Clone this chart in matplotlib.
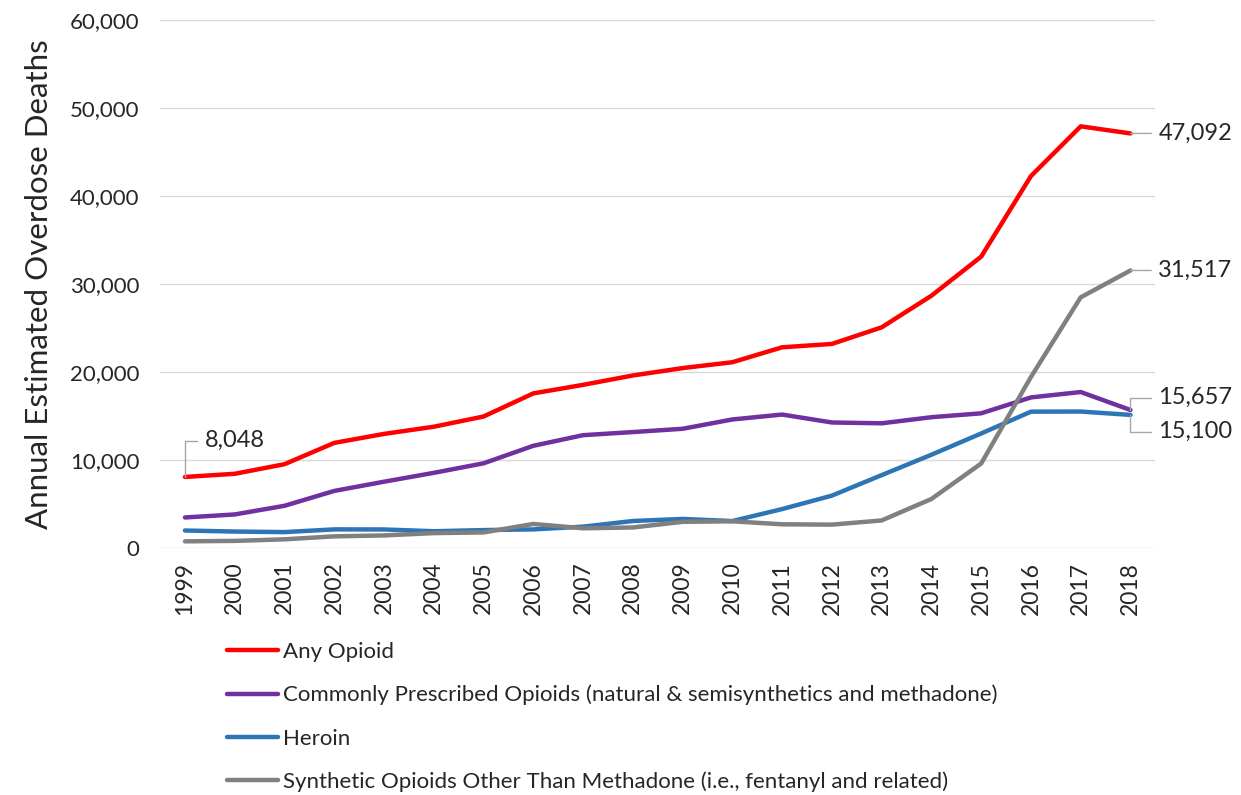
import matplotlib

matplotlib.use("Agg")
import matplotlib.pyplot as plt
from matplotlib.ticker import FuncFormatter

plt.rcParams["font.family"] = ["Lato", "DejaVu Sans"]

YEARS = [str(y) for y in range(1999, 2019)]
ANY_OPIOID = [8048, 8407, 9496, 11920, 12940, 13756, 14918, 17545, 18516, 19582,
              20422, 21089, 22784, 23166, 25052, 28647, 33091, 42249, 47900, 47092]
PRESCRIBED = [3442, 3785, 4770, 6459, 7507, 8515, 9598, 11589, 12796, 13149,
              13523, 14583, 15140, 14240, 14145, 14838, 15281, 17087, 17700, 15657]
HEROIN = [1960, 1842, 1779, 2089, 2080, 1878, 2009, 2088, 2399, 3041,
          3278, 3036, 4397, 5925, 8257, 10574, 12989, 15469, 15482, 15100]
SYNTHETIC = [730, 782, 957, 1295, 1400, 1664, 1742, 2707, 2213, 2306,
             2946, 3007, 2666, 2628, 3105, 5544, 9580, 19413, 28466, 31517]

SERIES = [
    ("Any Opioid", ANY_OPIOID, "#FF0000"),
    ("Commonly Prescribed Opioids (natural & semisynthetics and methadone)", PRESCRIBED, "#7030A0"),
    ("Heroin", HEROIN, "#2E75B6"),
    ("Synthetic Opioids Other Than Methadone (i.e., fentanyl and related)", SYNTHETIC, "#808080"),
]
TXT = "#262626"

fig = plt.figure(figsize=(12.41, 7.95), dpi=100)
ax = fig.add_axes([0.129, 0.311, 0.802, 0.664])

x = list(range(len(YEARS)))
handles = []
for label, vals, color in SERIES:
    (h,) = ax.plot(x, vals, color=color, linewidth=3.2, label=label,
                   solid_joinstyle="round", solid_capstyle="round")
    handles.append(h)

ax.set_xlim(-0.5, len(YEARS) - 0.5)
ax.set_ylim(0, 60000)
ax.set_yticks(range(0, 60001, 10000))
ax.yaxis.set_major_formatter(FuncFormatter(lambda v, p: f"{int(v):,}"))
ax.set_xticks(x)
ax.set_xticklabels(YEARS, rotation=90, fontsize=16.5, color=TXT)
ax.tick_params(axis="y", labelsize=16, labelcolor=TXT, length=0, pad=15)
ax.tick_params(axis="x", length=0, pad=10)
for s in ax.spines.values():
    s.set_visible(False)
ax.grid(axis="y", color="#D9D9D9", linewidth=1)
ax.set_axisbelow(True)
ax.set_ylabel("Annual Estimated Overdose Deaths", fontsize=22.5, color=TXT, labelpad=12)

# data labels with leader lines
lead = dict(arrowstyle="-", color="#A6A6A6", linewidth=1, shrinkA=3, shrinkB=0)
ax.annotate(f"{ANY_OPIOID[0]:,}", xy=(0, ANY_OPIOID[0]), xytext=(14, 26),
            textcoords="offset points", fontsize=17, color=TXT, va="center",
            arrowprops=dict(lead, connectionstyle="angle,angleA=0,angleB=90,rad=0",
                            relpos=(0, 0.5)))
last = len(YEARS) - 1
for vals, dy in [(ANY_OPIOID, 0), (SYNTHETIC, 0), (PRESCRIBED, 9), (HEROIN, -12)]:
    ax.annotate(f"{vals[-1]:,}", xy=(last, vals[-1]), xytext=(20, dy),
                textcoords="offset points", fontsize=17, color=TXT, va="center",
                arrowprops=dict(lead, connectionstyle="angle,angleA=0,angleB=90,rad=0"
                                if dy else "arc3", relpos=(0, 0.5)))

fig.legend(handles=handles, loc="upper left", bbox_to_anchor=(0.1755, 0.204),
           frameon=False, fontsize=16, handlelength=2.3, handletextpad=0.25,
           labelspacing=1.04, labelcolor=TXT, borderaxespad=0)

fig.savefig("out.png", dpi=100)
